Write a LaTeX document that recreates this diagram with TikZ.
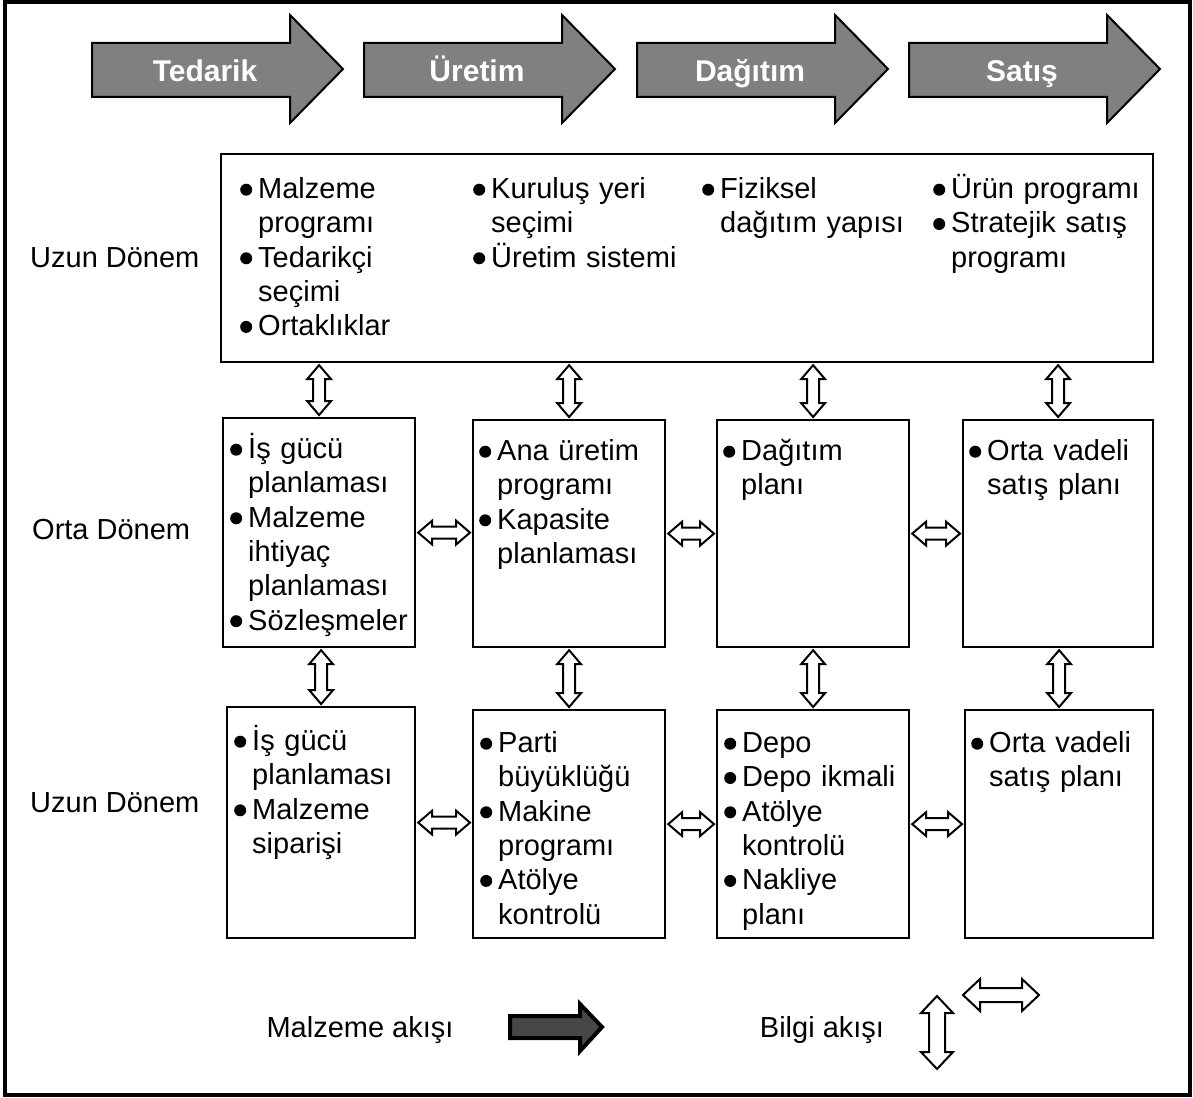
\documentclass[tikz,border=0pt]{standalone}
\usepackage{fontspec}
\setmainfont{Liberation Sans}
\usetikzlibrary{calc}

% size of the hollow information-flow arrows
\newcommand\arrHW{12pt}  % half width of the head
\newcommand\arrSW{6pt}   % half width of the shaft
\newcommand\arrHL{14pt}  % length of the head
\newcommand\arrGap{2pt}  % clearance to the boxes

% horizontal double arrow between two points (y taken from the first)
\newcommand\hdbl[2]{%
  \draw[infoarrow] let \p1=#1, \p2=#2 in
    (\x1+\arrGap,\y1) -- (\x1+\arrGap+\arrHL,\y1+\arrHW) -- (\x1+\arrGap+\arrHL,\y1+\arrSW)
    -- (\x2-\arrGap-\arrHL,\y1+\arrSW) -- (\x2-\arrGap-\arrHL,\y1+\arrHW) -- (\x2-\arrGap,\y1)
    -- (\x2-\arrGap-\arrHL,\y1-\arrHW) -- (\x2-\arrGap-\arrHL,\y1-\arrSW)
    -- (\x1+\arrGap+\arrHL,\y1-\arrSW) -- (\x1+\arrGap+\arrHL,\y1-\arrHW) -- cycle;}

% vertical double arrow between an upper and a lower point (x taken from the second)
\newcommand\vdbl[2]{%
  \draw[infoarrow] let \p1=#1, \p2=#2 in
    (\x2,\y1-\arrGap) -- (\x2+\arrHW,\y1-\arrGap-\arrHL) -- (\x2+\arrSW,\y1-\arrGap-\arrHL)
    -- (\x2+\arrSW,\y2+\arrGap+\arrHL) -- (\x2+\arrHW,\y2+\arrGap+\arrHL) -- (\x2,\y2+\arrGap)
    -- (\x2-\arrHW,\y2+\arrGap+\arrHL) -- (\x2-\arrSW,\y2+\arrGap+\arrHL)
    -- (\x2-\arrSW,\y1-\arrGap-\arrHL) -- (\x2-\arrHW,\y1-\arrGap-\arrHL) -- cycle;}

% round list bullet
\newcommand\listdot{\tikz[baseline=-8.8pt]\fill (0,0) circle[radius=6pt];}

% one bulleted entry with hanging indent; \\ breaks a line inside the entry
\newcommand\itm[1]{\par\noindent\let\\\newline\hangindent=18pt\hangafter=1\strut
  \makebox[18pt][l]{\listdot}#1\par}

% big grey stage arrow with its label
\newcommand\stage[3]{%
  \draw[stagearrow] (#1,43) -- (#1+198,43) -- (#1+198,15) -- (#1+251,69)
    -- (#1+198,123) -- (#1+198,97) -- (#1,97) -- cycle;
  \node[stagelabel] (#2) at (#1+113,82) {#3};}

\begin{document}
\begin{tikzpicture}[x=1pt,y=-1pt,
  cell/.style={draw, line width=2.2pt, anchor=north west, inner sep=0pt},
  entries/.style={anchor=north west, inner sep=0pt, text width=#1,
    font=\fontsize{29pt}{34.3pt}\selectfont,
    execute at begin node={\setlength\parskip{0pt}\raggedright}},
  entries/.default=220pt,
  rowlabel/.style={anchor=west, inner sep=0pt, font=\fontsize{29pt}{34pt}\selectfont},
  stagearrow/.style={draw, line width=2pt, fill=black!50, line join=miter},
  stagelabel/.style={anchor=base, inner sep=0pt, text=white,
    font=\fontsize{30pt}{34pt}\selectfont\bfseries},
  infoarrow/.style={draw, line width=2pt, fill=white, line join=miter},
]
\useasboundingbox (0,0) rectangle (1193,1097);

% frame
\draw[line width=3.5pt] (5,2) rectangle (1190,1095);

% stages
\stage{92}{s1}{Tedarik}
\stage{364}{s2}{Üretim}
\stage{637}{s3}{Dağıtım}
\stage{909}{s4}{Satış}

% long term, upper band
\node[cell, minimum width=932pt, minimum height=208pt] (t) at (220,153) {};
\node[entries] (t1) at (240,164) {\itm{Malzeme\\programı}\itm{Tedarikçi\\seçimi}\itm{Ortaklıklar}};
\node[entries] (t2) at (473,164) {\itm{Kuruluş yeri\\seçimi}\itm{Üretim sistemi}};
\node[entries] (t3) at (702,164) {\itm{Fiziksel\\dağıtım yapısı}};
\node[entries] (t4) at (933,164) {\itm{Ürün programı}\itm{Stratejik satış\\programı}};

% medium term
\node[cell, minimum width=192pt, minimum height=229pt] (m1) at (222,417) {};
\node[cell, minimum width=192pt, minimum height=227pt] (m2) at (472,419) {};
\node[cell, minimum width=192pt, minimum height=227pt] (m3) at (716,419) {};
\node[cell, minimum width=190pt, minimum height=227pt] (m4) at (962,419) {};
\node[entries] (m1t) at (230,424) {\itm{İş gücü\\planlaması}\itm{Malzeme\\ihtiyaç\\planlaması}\itm{Sözleşmeler}};
\node[entries] (m2t) at (479,426) {\itm{Ana üretim\\programı}\itm{Kapasite\\planlaması}};
\node[entries] (m3t) at (723,426) {\itm{Dağıtım\\planı}};
\node[entries] (m4t) at (969,426) {\itm{Orta vadeli\\satış planı}};

% short term
\node[cell, minimum width=188pt, minimum height=231pt] (b1) at (226,706) {};
\node[cell, minimum width=192pt, minimum height=228pt] (b2) at (472,709) {};
\node[cell, minimum width=192pt, minimum height=228pt] (b3) at (716,709) {};
\node[cell, minimum width=188pt, minimum height=228pt] (b4) at (964,709) {};
\node[entries] (b1t) at (234,716) {\itm{İş gücü\\planlaması}\itm{Malzeme\\siparişi}};
\node[entries] (b2t) at (480,718) {\itm{Parti\\büyüklüğü}\itm{Makine\\programı}\itm{Atölye\\kontrolü}};
\node[entries] (b3t) at (724,718) {\itm{Depo}\itm{Depo ikmali}\itm{Atölye\\kontrolü}\itm{Nakliye\\planı}};
\node[entries] (b4t) at (971,718) {\itm{Orta vadeli\\satış planı}};

% row labels
\node[rowlabel] (r1) at (30,258) {Uzun Dönem};
\node[rowlabel] (r2) at (32,530) {Orta Dönem};
\node[rowlabel] (r3) at (30,803) {Uzun Dönem};

% information flow between levels
\vdbl{(t.south)}{(m1.north)}
\vdbl{(t.south)}{(m2.north)}
\vdbl{(t.south)}{(m3.north)}
\vdbl{(t.south)}{(m4.north)}
\vdbl{(m1.south)}{(b1.north)}
\vdbl{(m2.south)}{(b2.north)}
\vdbl{(m3.south)}{(b3.north)}
\vdbl{(m4.south)}{(b4.north)}

% information flow within a level
\hdbl{(m1.east)}{(m2.west)}
\hdbl{(m2.east)}{(m3.west)}
\hdbl{(m3.east)}{(m4.west)}
\hdbl{(b1.east)}{(b2.west)}
\hdbl{(b2.east)}{(b3.west)}
\hdbl{(b3.east)}{(b4.west)}

% legend
\node[rowlabel, anchor=center] (lm) at (360,1030) {Malzeme akışı};
\draw[line width=4pt, fill=black!72, line join=miter]
  (510,1016) -- (580,1016) -- (580,1004) -- (602,1027) -- (580,1051) -- (580,1038) -- (510,1038) -- cycle;
\node[rowlabel, anchor=center] (lb) at (822,1030) {Bilgi akışı};
\coordinate (vtop) at (937,996);
\coordinate (vbot) at (937,1069);
\coordinate (hl) at (963,995);
\coordinate (hr) at (1039,995);
\renewcommand\arrGap{0pt}
\renewcommand\arrHW{16pt}
\renewcommand\arrSW{8pt}
\renewcommand\arrHL{17pt}
\vdbl{(vtop)}{(vbot)}
\renewcommand\arrSW{7pt}
\hdbl{(hl)}{(hr)}
\end{tikzpicture}
\end{document}
